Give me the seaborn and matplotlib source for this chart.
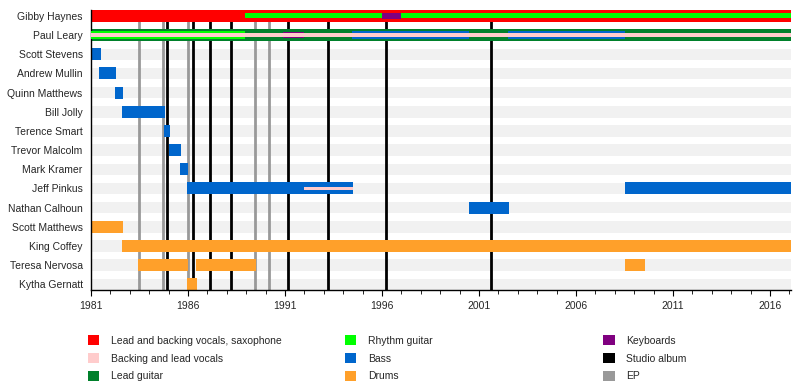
import matplotlib
matplotlib.use('Agg')
import matplotlib.pyplot as plt
from matplotlib.patches import Patch
from matplotlib.ticker import MultipleLocator
import seaborn as sns

sns.set_theme(style="white")
plt.rcParams['font.family'] = ['Liberation Sans', 'DejaVu Sans']

# members, top to bottom
members = ["Gibby Haynes", "Paul Leary", "Scott Stevens", "Andrew Mullin",
           "Quinn Matthews", "Bill Jolly", "Terence Smart", "Trevor Malcolm",
           "Mark Kramer", "Jeff Pinkus", "Nathan Calhoun", "Scott Matthews",
           "King Coffey", "Teresa Nervosa", "Kytha Gernatt"]

START = 1981.0
END = 2017.08

# (member, from, to) per role
lead_vocals = [("Gibby Haynes", 1981.0, END)]
lead_guitar = [("Paul Leary", 1981.0, END)]
bass = [("Scott Stevens", 1981.0, 1981.5), ("Andrew Mullin", 1981.43, 1982.3),
        ("Quinn Matthews", 1982.25, 1982.66), ("Bill Jolly", 1982.6, 1984.83),
        ("Terence Smart", 1984.78, 1985.09), ("Trevor Malcolm", 1985.04, 1985.65),
        ("Mark Kramer", 1985.6, 1986.0), ("Jeff Pinkus", 1985.96, 1994.5),
        ("Jeff Pinkus", 2008.5, END), ("Nathan Calhoun", 2000.5, 2002.56)]
drums = [("Scott Matthews", 1981.0, 1982.66), ("King Coffey", 1982.6, END),
         ("Teresa Nervosa", 1983.44, 1986.0), ("Teresa Nervosa", 1986.43, 1989.52),
         ("Teresa Nervosa", 2008.5, 2009.57), ("Kytha Gernatt", 1985.95, 1986.48)]
# second layer
gibby_rhythm = [("Gibby Haynes", 1988.95, END)]
paul_rhythm = [("Paul Leary", 1981.0, 1988.95)]
bass_second = [("Paul Leary", 1994.45, 2000.5), ("Paul Leary", 2002.5, 2008.54)]
keyboards = [("Gibby Haynes", 1996.0, 1997.0), ("Paul Leary", 1990.9, 1992.0)]
# inner layer
backing_vocals = [("Paul Leary", 1981.0, END), ("Jeff Pinkus", 1992.0, 1994.5)]

studio_albums = [1984.9, 1986.24, 1987.11, 1988.23, 1991.13, 1993.2, 1996.2, 2001.63]
eps = [1983.45, 1984.7, 1986.0, 1989.43, 1990.15]

colors = {
    "Lead and backing vocals, saxophone": "#ff0000",
    "Backing and lead vocals": "#ffcccc",
    "Lead guitar": "#00802b",
    "Rhythm guitar": "#00ff00",
    "Bass": "#0066cc",
    "Drums": "#ffa02a",
    "Keyboards": "#800080",
    "Studio album": "#000000",
    "EP": "#999999",
}

row = {m: i for i, m in enumerate(members)}


def draw(ax, spans, color, height, z):
    for m, a, b in spans:
        ax.barh(row[m], b - a, left=a, height=height, color=color,
                linewidth=0, zorder=z)


fig = plt.figure(figsize=(8, 3.9), dpi=100)
ax = fig.add_axes([0.11375, 0.2564, 0.875, 0.718])

# background bands
for i in range(len(members)):
    ax.barh(i, END - START, left=START, height=0.6, color="#f1f1f1",
            linewidth=0, zorder=0)

for x in eps:
    ax.axvline(x, color=colors["EP"], linewidth=2.0, zorder=1)
for x in studio_albums:
    ax.axvline(x, color=colors["Studio album"], linewidth=2.0, zorder=1)

draw(ax, lead_vocals, colors["Lead and backing vocals, saxophone"], 0.62, 2)
draw(ax, lead_guitar, colors["Lead guitar"], 0.62, 2)
draw(ax, bass, colors["Bass"], 0.62, 2)
draw(ax, drums, colors["Drums"], 0.62, 2)
draw(ax, gibby_rhythm, colors["Rhythm guitar"], 0.26, 3)
draw(ax, paul_rhythm, colors["Rhythm guitar"], 0.42, 3)
draw(ax, bass_second, colors["Bass"], 0.4, 3)
draw(ax, keyboards, colors["Keyboards"], 0.3, 4)
draw(ax, backing_vocals, colors["Backing and lead vocals"], 0.18, 5)

ax.set_xlim(START, END)
ax.set_ylim(len(members) - 0.7, -0.31)
ax.set_yticks(range(len(members)))
ax.set_yticklabels(members, fontsize=7.5)
ax.xaxis.set_major_locator(MultipleLocator(5, offset=1))
ax.xaxis.set_minor_locator(MultipleLocator(1))
ax.tick_params(axis='x', which='major', labelsize=7.5, length=4, width=0.8,
               color='black', direction='out', bottom=True, pad=4)
ax.tick_params(axis='x', which='minor', length=3, width=0.6, color='black',
               direction='out', bottom=True)
ax.tick_params(axis='y', length=0, pad=6)
for s in ["top", "right"]:
    ax.spines[s].set_visible(False)
for s in ["left", "bottom"]:
    ax.spines[s].set_color("black")
    ax.spines[s].set_linewidth(1.0)

names = list(colors.keys())
col_x = [0.11, 0.431, 0.754]
for c in range(3):
    handles = [Patch(facecolor=colors[n], edgecolor='none', label=n)
               for n in names[c * 3:(c + 1) * 3]]
    fig.legend(handles=handles, loc='upper left', bbox_to_anchor=(col_x[c], 0.14),
               frameon=False, fontsize=7.5, handlelength=1.1, handleheight=1.1,
               handletextpad=1.1, labelspacing=0.68, borderpad=0, borderaxespad=0)

fig.savefig("out.png", dpi=100)
